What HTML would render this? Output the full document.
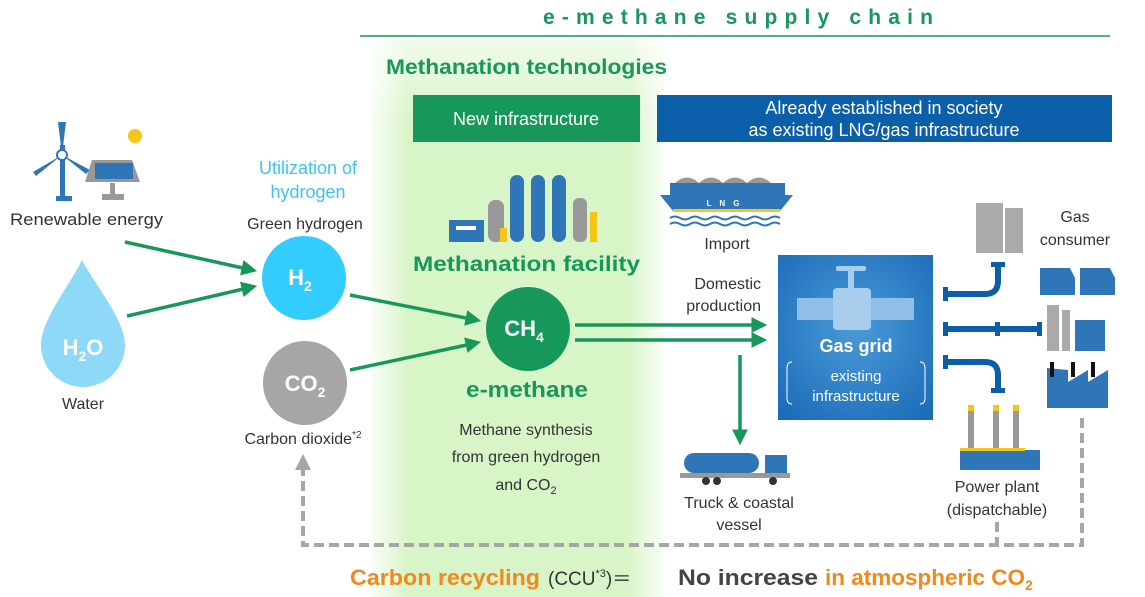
<!DOCTYPE html>
<html><head><meta charset="utf-8"><style>
html,body{margin:0;padding:0;background:#fff;}
svg{display:block;font-family:"Liberation Sans",Arial,sans-serif;}
</style></head><body>
<svg width="1145" height="597" viewBox="0 0 1145 597" xmlns="http://www.w3.org/2000/svg">
<defs>
<linearGradient id="gp" x1="0" x2="1" y1="0" y2="0">
<stop offset="0" stop-color="#e6f8dc" stop-opacity="0.3"/>
<stop offset="0.12" stop-color="#d8f5c8"/>
<stop offset="0.88" stop-color="#d8f5c8"/>
<stop offset="1" stop-color="#e6f8dc" stop-opacity="0.3"/>
</linearGradient>
<linearGradient id="gv" x1="0" x2="0" y1="0" y2="1">
<stop offset="0" stop-color="#fff" stop-opacity="0.6"/>
<stop offset="0.15" stop-color="#fff" stop-opacity="0"/>
</linearGradient>
<radialGradient id="gg" cx="0.5" cy="0.45" r="0.7">
<stop offset="0" stop-color="#4a9ad8"/>
<stop offset="1" stop-color="#1c6cb8"/>
</radialGradient>
<marker id="ag" markerWidth="4.5" markerHeight="4.5" refX="3" refY="2.25" orient="auto" markerUnits="strokeWidth"><path d="M0,0 L4.5,2.25 L0,4.5 z" fill="#17975a"/></marker>
<marker id="ad" markerWidth="4" markerHeight="4" refX="2" refY="2" orient="auto" markerUnits="strokeWidth"><path d="M0,0 L4,2 L0,4 z" fill="#a6a6a6"/></marker>
</defs>

<rect x="372" y="40" width="292" height="557" fill="url(#gp)"/>
<rect x="372" y="40" width="292" height="557" fill="url(#gv)"/>

<text x="543" y="24" font-size="21" font-weight="bold" fill="#17975a" textLength="390" lengthAdjust="spacing">e-methane supply chain</text>
<line x1="360" y1="36" x2="1110" y2="36" stroke="#17975a" stroke-width="1.5"/>
<text x="386" y="74" font-size="21" font-weight="bold" fill="#17975a" textLength="281" lengthAdjust="spacingAndGlyphs">Methanation technologies</text>

<rect x="413" y="95" width="227" height="47" fill="#17975a"/>
<text x="526" y="125" text-anchor="middle" font-size="18" fill="#fff">New infrastructure</text>
<rect x="657" y="95" width="455" height="47" fill="#0b5ea8"/>
<text x="884" y="114" text-anchor="middle" font-size="18" fill="#fff">Already established in society</text>
<text x="884" y="136" text-anchor="middle" font-size="18" fill="#fff">as existing LNG/gas infrastructure</text>

<g>
<rect x="60" y="145" width="5" height="55" fill="#2f76b8"/>
<rect x="56" y="196" width="16" height="5" fill="#2f76b8"/>
<path d="M62,155 L58,122 L66,122 Z" fill="#2f76b8"/>
<path d="M62,155 L33,172 L36,176 Z" fill="#2f76b8"/>
<path d="M62,155 L90,170 L86,174 Z" fill="#2f76b8"/>
<circle cx="62" cy="155" r="5" fill="#fff" stroke="#2f76b8" stroke-width="2"/>
<path d="M92,160 L132,160 L140,182 L85,182 Z" fill="#999"/>
<rect x="95" y="163" width="38" height="16" fill="#2f76b8"/>
<rect x="110" y="183" width="5" height="12" fill="#999"/>
<rect x="102" y="194" width="22" height="6" fill="#999"/>
<circle cx="135" cy="136" r="7" fill="#f5c518"/>
</g>
<text x="10" y="225" font-size="17" fill="#333" textLength="153" lengthAdjust="spacingAndGlyphs">Renewable energy</text>

<path d="M82,260 C95,285 125,320 125,345 A41,41 0 0 1 41,345 C41,320 70,285 82,260 Z" fill="#8ed8f8"/>
<text x="83" y="355" text-anchor="middle" font-size="22" font-weight="bold" fill="#fff">H<tspan font-size="14" dy="6">2</tspan><tspan dy="-6">O</tspan></text>
<text x="83" y="409" text-anchor="middle" font-size="16" fill="#333">Water</text>

<text x="308" y="174" text-anchor="middle" font-size="18" fill="#3bc4f0">Utilization of</text>
<text x="308" y="198" text-anchor="middle" font-size="18" fill="#3bc4f0">hydrogen</text>
<text x="305" y="229" text-anchor="middle" font-size="16" fill="#333">Green hydrogen</text>
<circle cx="304" cy="278" r="42" fill="#33ccff"/>
<text x="300" y="285" text-anchor="middle" font-size="22" font-weight="bold" fill="#fff">H<tspan font-size="14" dy="6">2</tspan></text>
<circle cx="305" cy="383" r="42" fill="#a6a6a6"/>
<text x="305" y="391" text-anchor="middle" font-size="22" font-weight="bold" fill="#fff">CO<tspan font-size="14" dy="6">2</tspan></text>
<text x="303" y="444" text-anchor="middle" font-size="16" fill="#333">Carbon dioxide<tspan font-size="10" dy="-6">*2</tspan></text>

<g stroke="#17975a" stroke-width="3.5" fill="none">
<line x1="125" y1="242" x2="252" y2="270" marker-end="url(#ag)"/>
<line x1="127" y1="316" x2="252" y2="287" marker-end="url(#ag)"/>
<line x1="350" y1="295" x2="476" y2="320" marker-end="url(#ag)"/>
<line x1="350" y1="370" x2="476" y2="343" marker-end="url(#ag)"/>
<line x1="575" y1="325" x2="762" y2="325" marker-end="url(#ag)"/>
<line x1="575" y1="340" x2="762" y2="340" marker-end="url(#ag)"/>
<line x1="740" y1="355" x2="740" y2="440" marker-end="url(#ag)"/>
</g>

<g>
<rect x="449" y="220" width="35" height="22" fill="#2f76b8"/>
<rect x="456" y="226" width="20" height="4" fill="#fff"/>
<rect x="488" y="200" width="16" height="42" rx="7" fill="#999"/>
<rect x="510" y="175" width="14" height="67" rx="7" fill="#2f76b8"/>
<rect x="531" y="175" width="14" height="67" rx="7" fill="#2f76b8"/>
<rect x="552" y="175" width="14" height="67" rx="7" fill="#2f76b8"/>
<rect x="573" y="198" width="14" height="44" rx="6" fill="#999"/>
<rect x="590" y="212" width="7" height="30" fill="#f5c518"/>
<rect x="500" y="228" width="7" height="14" fill="#f5c518"/>
</g>
<text x="413" y="271" font-size="21" font-weight="bold" fill="#17975a" textLength="227" lengthAdjust="spacingAndGlyphs">Methanation facility</text>
<circle cx="528" cy="329" r="42" fill="#17975a"/>
<text x="524" y="336" text-anchor="middle" font-size="22" font-weight="bold" fill="#fff">CH<tspan font-size="14" dy="6">4</tspan></text>
<text x="466" y="397" font-size="22" font-weight="bold" fill="#17975a" textLength="122" lengthAdjust="spacingAndGlyphs">e-methane</text>
<text x="526" y="435" text-anchor="middle" font-size="16" fill="#333">Methane synthesis</text>
<text x="526" y="462" text-anchor="middle" font-size="16" fill="#333">from green hydrogen</text>
<text x="526" y="490" text-anchor="middle" font-size="16" fill="#333">and CO<tspan font-size="11" dy="4">2</tspan></text>

<g>
<path d="M675,183 Q687,172 699,183 Q711,172 723,183 Q735,172 747,183 Q759,172 771,183 Z" fill="#999"/>
<path d="M660,195 L793,195 L780,211 L673,211 Z" fill="#2f76b8"/>
<rect x="670" y="183" width="115" height="12" fill="#2f76b8"/>
<rect x="673" y="209" width="107" height="3" fill="#f5c518"/>
<text x="727" y="206" text-anchor="middle" font-size="8" font-weight="bold" fill="#fff" letter-spacing="8">LNG</text>
<path d="M670,218 q5,-3 10,0 t10,0 t10,0 t10,0 t10,0 t10,0 t10,0 t10,0 t10,0 t10,0 t10,0" stroke="#2f76b8" stroke-width="2" fill="none"/>
<path d="M670,224 q5,-3 10,0 t10,0 t10,0 t10,0 t10,0 t10,0 t10,0 t10,0 t10,0 t10,0 t10,0" stroke="#2f76b8" stroke-width="2" fill="none"/>
</g>
<text x="727" y="249" text-anchor="middle" font-size="16" fill="#333">Import</text>
<text x="761" y="289" text-anchor="end" font-size="16" fill="#333">Domestic</text>
<text x="761" y="311" text-anchor="end" font-size="16" fill="#333">production</text>

<g>
<rect x="684" y="453" width="75" height="20" rx="10" fill="#2f76b8"/>
<rect x="765" y="455" width="22" height="22" fill="#2f76b8"/>
<rect x="680" y="473" width="110" height="5" fill="#999"/>
<circle cx="706" cy="481" r="4" fill="#333"/><circle cx="717" cy="481" r="4" fill="#333"/><circle cx="773" cy="481" r="4" fill="#333"/>
</g>
<text x="739" y="508" text-anchor="middle" font-size="16" fill="#333">Truck &amp; coastal</text>
<text x="739" y="530" text-anchor="middle" font-size="16" fill="#333">vessel</text>

<rect x="778" y="255" width="155" height="165" fill="url(#gg)"/>
<rect x="797" y="298" width="117" height="22" fill="#8fbfe8"/>
<rect x="833" y="288" width="38" height="42" rx="4" fill="#a9cdec"/>
<rect x="848" y="268" width="6" height="22" fill="#a9cdec"/>
<rect x="836" y="266" width="30" height="5" rx="2" fill="#a9cdec"/>
<text x="856" y="352" text-anchor="middle" font-size="18" font-weight="bold" fill="#fff">Gas grid</text>
<text x="856" y="381" text-anchor="middle" font-size="15" fill="#fff">existing</text>
<text x="856" y="401" text-anchor="middle" font-size="15" fill="#fff">infrastructure</text>
<path d="M792,362 q-5,0 -5,6 v30 q0,6 5,6" stroke="#fff" fill="none"/>
<path d="M920,362 q5,0 5,6 v30 q0,6 -5,6" stroke="#fff" fill="none"/>

<g stroke="#0b5ea8" stroke-width="6" fill="none">
<path d="M946,294 H985 Q998,294 998,281 V265"/>
<line x1="946" y1="329" x2="1039" y2="329"/>
<path d="M946,362 H985 Q998,362 998,375 V390"/>
</g>
<g fill="#0b5ea8">
<rect x="943" y="287" width="5" height="14"/><rect x="991" y="262" width="14" height="5"/>
<rect x="943" y="322" width="5" height="14"/><rect x="995" y="322" width="5" height="14"/><rect x="1037" y="322" width="5" height="14"/>
<rect x="943" y="355" width="5" height="14"/><rect x="991" y="388" width="14" height="5"/>
</g>

<rect x="976" y="203" width="27" height="50" fill="#aaa"/>
<rect x="1005" y="208" width="18" height="45" fill="#aaa"/>
<text x="1075" y="222" text-anchor="middle" font-size="16" fill="#333">Gas</text>
<text x="1075" y="245" text-anchor="middle" font-size="16" fill="#333">consumer</text>
<path d="M1040,268 L1070,268 L1075,278 L1075,295 L1040,295 Z" fill="#2f76b8"/>
<path d="M1080,268 L1110,268 L1115,278 L1115,295 L1080,295 Z" fill="#2f76b8"/>
<rect x="1047" y="305" width="12" height="46" fill="#aaa"/>
<rect x="1062" y="310" width="8" height="41" fill="#aaa"/>
<rect x="1075" y="320" width="30" height="31" fill="#2f76b8"/>
<path d="M1047,368 L1047,408 L1108,408 L1108,370 L1088,382 L1088,370 L1068,382 L1068,370 Z" fill="#2f76b8"/>
<rect x="1050" y="362" width="4" height="15" fill="#111"/><rect x="1071" y="362" width="4" height="15" fill="#111"/><rect x="1091" y="362" width="4" height="15" fill="#111"/>
<rect x="968" y="405" width="6" height="45" fill="#999"/><rect x="993" y="405" width="6" height="45" fill="#999"/><rect x="1013" y="405" width="6" height="45" fill="#999"/>
<rect x="968" y="405" width="6" height="6" fill="#f5c518"/><rect x="993" y="405" width="6" height="6" fill="#f5c518"/><rect x="1013" y="405" width="6" height="6" fill="#f5c518"/>
<rect x="960" y="450" width="80" height="20" fill="#2f76b8"/>
<rect x="960" y="448" width="65" height="3" fill="#f5c518"/>
<text x="997" y="492" text-anchor="middle" font-size="16" fill="#333">Power plant</text>
<text x="997" y="515" text-anchor="middle" font-size="16" fill="#333">(dispatchable)</text>

<g stroke="#a6a6a6" stroke-width="4" fill="none" stroke-dasharray="10,5">
<path d="M1082,418 V545 H303 V462" marker-end="url(#ad)"/>
<line x1="997" y1="522" x2="997" y2="545"/>
</g>

<text y="585" font-size="22" font-weight="bold">
<tspan x="350" fill="#f0891e" textLength="190" lengthAdjust="spacingAndGlyphs">Carbon recycling</tspan>
<tspan x="548" fill="#333" font-weight="normal" font-size="19">(CCU<tspan font-size="11" dy="-8">*3</tspan><tspan dy="8">)＝</tspan></tspan>
<tspan x="678" fill="#444" textLength="140" lengthAdjust="spacingAndGlyphs">No increase</tspan>
<tspan x="825" fill="#f0891e" textLength="200" lengthAdjust="spacingAndGlyphs">in atmospheric CO</tspan><tspan fill="#f0891e" font-size="14" dy="5">2</tspan>
</text>
</svg>
</body></html>
